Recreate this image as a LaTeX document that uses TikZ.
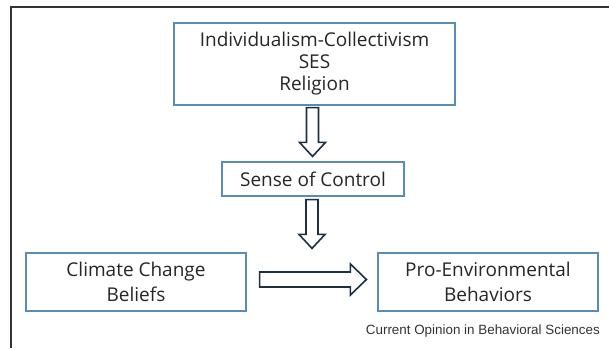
\documentclass[tikz,border=0pt]{standalone}
\usepackage{fontspec}
\setmainfont{Open Sans}
\newfontfamily\captionfont{Liberation Sans}
\usetikzlibrary{calc}
\definecolor{boxblue}{HTML}{5B8DB4}
\definecolor{arrowink}{HTML}{1E2F42}
\definecolor{frameink}{HTML}{333333}
\tikzset{
  infobox/.style={draw=boxblue, line width=1.2pt, fill=white, rectangle,
    align=center, inner sep=0pt, text=black!85, font=\fontsize{19}{22}\selectfont},
  widebox/.style={infobox, font=\fontsize{19}{25}\selectfont},
  blockarrow/.style={draw=arrowink, line width=1.6pt, fill=white, line join=miter},
}
\begin{document}
\begin{tikzpicture}[x=1pt,y=-1pt]
  \useasboundingbox (0,0) rectangle (609,348);
  % open frame: top and left edges only
  \draw[frameink, line width=2pt] (11,348) -- (11,7) -- (609,7);

  % boxes
  \node[infobox, minimum width=281pt, minimum height=82pt] (drivers) at (314.5,64)
    {Individualism-Collectivism\\SES\\Religion};
  \node[infobox, minimum width=182pt, minimum height=34pt] (control) at (313,179)
    {Sense of Control};
  \node[widebox, minimum width=220pt, minimum height=58pt] (beliefs) at (136,282)
    {Climate Change\\Beliefs};
  \node[widebox, minimum width=220pt, minimum height=58pt] (behaviors) at (488,282)
    {Pro-Environmental\\Behaviors};

  % arrow anchor points
  \coordinate (a1s) at ($(drivers.south)+(-2,2)$);
  \coordinate (a1e) at ($(a1s |- control.north)+(0,-5)$);
  \coordinate (a2s) at ($(control.south)+(-1,3)$);
  \coordinate (a2e) at ($(a2s |- beliefs.north)+(0,-4)$);
  \coordinate (a3s) at ($(beliefs.east)+(13,-2.5)$);
  \coordinate (a3e) at ($(a3s -| behaviors.west)+(-11,0)$);

  % hollow block arrows
  \draw[blockarrow] ($(a1s)+(-6,0)$) -- ($(a1e)+(-6,-14)$) -- ($(a1e)+(-13,-14)$)
    -- (a1e) -- ($(a1e)+(13,-14)$) -- ($(a1e)+(6,-14)$) -- ($(a1s)+(6,0)$) -- cycle;
  \draw[blockarrow] ($(a2s)+(-6,0)$) -- ($(a2e)+(-6,-14)$) -- ($(a2e)+(-13,-14)$)
    -- (a2e) -- ($(a2e)+(13,-14)$) -- ($(a2e)+(6,-14)$) -- ($(a2s)+(6,0)$) -- cycle;
  \draw[blockarrow] ($(a3s)+(0,-7.5)$) -- ($(a3e)+(-16,-7.5)$) -- ($(a3e)+(-16,-15.5)$)
    -- (a3e) -- ($(a3e)+(-16,15.5)$) -- ($(a3e)+(-16,7.5)$) -- ($(a3s)+(0,7.5)$) -- cycle;

  % source line
  \node[anchor=east, inner sep=0pt, text=black!80, font=\captionfont\fontsize{13.4}{16}\selectfont]
    (source) at (600,331) {Current Opinion in Behavioral Sciences};
\end{tikzpicture}
\end{document}
